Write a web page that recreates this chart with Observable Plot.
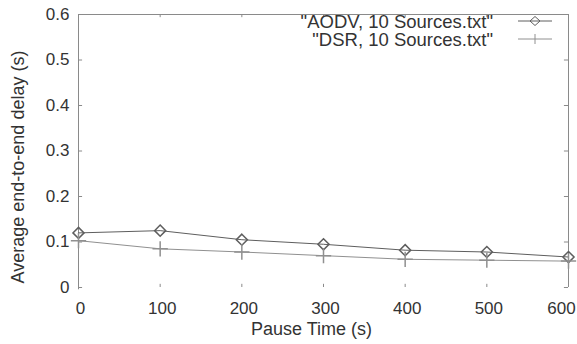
<!DOCTYPE html>
<html>
<head>
<meta charset="utf-8">
<script src="https://cdn.jsdelivr.net/npm/d3@7"></script>
<script src="https://cdn.jsdelivr.net/npm/@observablehq/plot@0.6"></script>
<style>
  html, body { margin: 0; padding: 0; background: #fff; }
  #chart { width: 577px; height: 344px; }
</style>
</head>
<body>
<div id="chart"></div>
<script>
const pauseTimes = [0, 100, 200, 300, 400, 500, 600];
const aodvDelay = [0.12, 0.125, 0.105, 0.095, 0.082, 0.078, 0.067];
const dsrDelay  = [0.103, 0.085, 0.078, 0.070, 0.062, 0.060, 0.058];
const seriesNames = ['"AODV, 10 Sources.txt"', '"DSR, 10 Sources.txt"'];
const xTicks = [0, 100, 200, 300, 400, 500, 600];
const yTicks = [0, 0.1, 0.2, 0.3, 0.4, 0.5, 0.6];
const yTickLabels = ["0", "0.1", "0.2", "0.3", "0.4", "0.5", "0.6"];
const xLabel = "Pause Time (s)";
const yLabel = "Average end-to-end delay (s)";

const aodv = pauseTimes.map((x, i) => ({x, y: aodvDelay[i]}));
const dsr = pauseTimes.map((x, i) => ({x, y: dsrDelay[i]}));

const FONT = "Liberation Sans, Arial, sans-serif";
const TXT = "#333";
const FRAME = "#8a8a8a";
const AODV_C = "#5e5e5e";
const DSR_C = "#909090";

function legend(index, scales, values, dims) {
  const g = d3.create("svg:g");
  const right = dims.width - dims.marginRight;
  const top = dims.marginTop;
  const rows = [
    {name: seriesNames[0], color: AODV_C, sym: "diamond"},
    {name: seriesNames[1], color: DSR_C, sym: "plus"}
  ];
  rows.forEach((r, i) => {
    const y = top + 7 + i * 18;
    g.append("text")
      .attr("x", right - 75).attr("y", y)
      .attr("text-anchor", "end").attr("dominant-baseline", "central")
      .attr("font-family", FONT).attr("font-size", 18.5).attr("fill", TXT)
      .text(r.name);
    g.append("line")
      .attr("x1", right - 50).attr("x2", right - 16)
      .attr("y1", y).attr("y2", y)
      .attr("stroke", r.color).attr("stroke-width", 1);
    const cx = right - 33;
    if (r.sym === "diamond") {
      g.append("path")
        .attr("d", `M${cx},${y-4.5}L${cx+5},${y}L${cx},${y+4.5}L${cx-5},${y}Z`)
        .attr("fill", "none").attr("stroke", r.color);
    } else {
      g.append("path")
        .attr("d", `M${cx},${y-5}V${y+5}`)
        .attr("fill", "none").attr("stroke", r.color);
    }
  });
  return g.node();
}

const chart = Plot.plot({
  width: 577,
  height: 344,
  marginLeft: 78,
  marginRight: 9,
  marginTop: 14,
  marginBottom: 57,
  style: {fontFamily: FONT, fontSize: "17px", color: TXT, background: "#fff"},
  x: {domain: [0, 600]},
  y: {domain: [0, 0.6]},
  marks: [
    // frame (left, top, right)
    Plot.ruleX([0], {stroke: FRAME, y1: -0.005, y2: 0.6}),
    Plot.ruleX([600], {stroke: FRAME, y1: 0, y2: 0.6}),
    Plot.ruleY([0.6], {stroke: FRAME}),
    // inward tick marks
    Plot.ruleY(yTicks, {x1: 0, x2: 5, stroke: FRAME}),
    Plot.ruleY(yTicks, {x1: 595, x2: 600, stroke: FRAME}),
    Plot.ruleX(xTicks, {y1: 0, y2: 0.007, stroke: FRAME}),
    Plot.ruleX(xTicks, {y1: 0.593, y2: 0.6, stroke: FRAME}),
    Plot.axisX(xTicks.slice(0, -1), {tickSize: 0, tickPadding: 14, label: null, fill: TXT, fontSize: 17, dx: 2}),
    Plot.axisX(xTicks.slice(-1), {tickSize: 0, tickPadding: 14, label: null, fill: TXT, fontSize: 17, dx: -7}),
    Plot.axisY(yTicks, {tickSize: 0, tickPadding: 9, label: null, fill: TXT, fontSize: 17,
      tickFormat: (d, i) => yTickLabels[i]}),
    Plot.text([xLabel], {frameAnchor: "bottom", lineAnchor: "middle", dx: -12, dy: 42, fill: TXT, fontSize: 18}),
    Plot.text([yLabel], {frameAnchor: "left", rotate: -90, textAnchor: "middle", dx: -60, dy: 16, fill: TXT, fontSize: 18}),
    // data
    Plot.line(aodv, {x: "x", y: "y", stroke: AODV_C, strokeWidth: 1}),
    Plot.line(dsr, {x: "x", y: "y", stroke: DSR_C, strokeWidth: 1}),
    Plot.dot(aodv, {x: "x", y: "y", symbol: "diamond2", r: 5, stroke: AODV_C, fill: "none"}),
    Plot.dot(dsr, {x: "x", y: "y", symbol: "plus", r: 5, stroke: DSR_C, fill: "none"}),
    legend
  ]
});
document.getElementById("chart").appendChild(chart);
</script>
</body>
</html>
